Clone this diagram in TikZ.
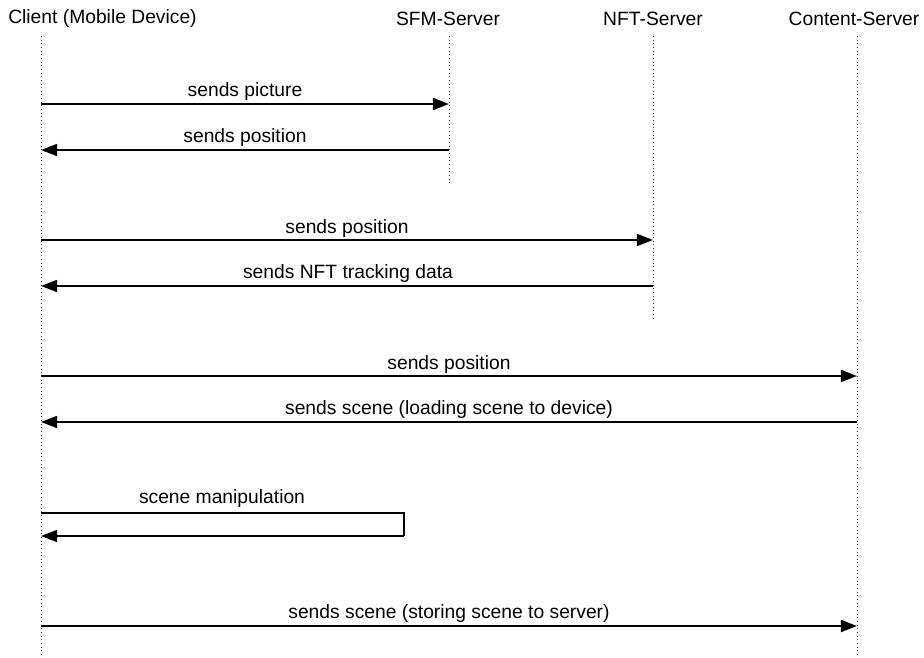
\documentclass[tikz,border=0pt]{standalone}
\usepackage{fontspec}
\setmainfont{Liberation Sans}
\usetikzlibrary{arrows.meta,positioning,calc}
\tikzset{
    headlbl/.style={inner sep=0pt, font=\fontsize{13.7}{16}\selectfont},
    msglbl/.style={inner sep=0pt, font=\fontsize{13.7}{16}\selectfont},
    lifeline/.style={dotted, line width=0.6pt, black!80},
    msgarrow/.style={-{Triangle[length=11.5pt, width=8.5pt]}, line width=1.4pt},
    msgline/.style={line width=1.4pt}
}

\begin{document}
\begin{tikzpicture}[x=0.025cm, y=-0.025cm]
\useasboundingbox (0,0) rectangle (924,657);
% participants
\node[headlbl, anchor=west] (client) at (8,19) {Client (Mobile Device)};
\node[headlbl] (sfm) at (448,19) {SFM-Server};
\node[headlbl] (nft) at (653,19) {NFT-Server};
\node[headlbl] (content) at (854,19) {Content-Server};
% lifelines
\coordinate (clientTop) at (41,36);
\coordinate (clientEnd) at (41,657);
\coordinate (sfmTop) at (449,36);
\coordinate (sfmEnd) at (449,184);
\coordinate (nftTop) at (653,36);
\coordinate (nftEnd) at (653,321);
\coordinate (contentTop) at (857,36);
\coordinate (contentEnd) at (857,657);
\draw[lifeline] (clientTop) -- (clientEnd);
\draw[lifeline] (sfmTop) -- (sfmEnd);
\draw[lifeline] (nftTop) -- (nftEnd);
\draw[lifeline] (contentTop) -- (contentEnd);
% message points
\coordinate (c1) at (clientTop |- 0,104);
\coordinate (s1) at (sfmTop |- 0,104);
\coordinate (c2) at (clientTop |- 0,150);
\coordinate (s2) at (sfmTop |- 0,150);
\coordinate (c3) at (clientTop |- 0,240);
\coordinate (n3) at (nftTop |- 0,240);
\coordinate (c4) at (clientTop |- 0,286);
\coordinate (n4) at (nftTop |- 0,286);
\coordinate (c5) at (clientTop |- 0,376);
\coordinate (k5) at (contentTop |- 0,376);
\coordinate (c6) at (clientTop |- 0,422);
\coordinate (k6) at (contentTop |- 0,422);
\coordinate (c7) at (clientTop |- 0,513);
\coordinate (self1) at (404,513);
\coordinate (self2) at (404,536);
\coordinate (c8) at (clientTop |- 0,536);
\coordinate (c9) at (clientTop |- 0,626);
\coordinate (k9) at (contentTop |- 0,626);
% messages
\draw[msgarrow] (c1) -- (s1);
\node[msglbl] (m1) at (245,92) {sends picture};
\draw[msgarrow] (s2) -- (c2);
\node[msglbl] (m2) at (245,138) {sends position};
\draw[msgarrow] (c3) -- (n3);
\node[msglbl] (m3) at (347,229) {sends position};
\draw[msgarrow] (n4) -- (c4);
\node[msglbl] (m4) at (348,274) {sends NFT tracking data};
\draw[msgarrow] (c5) -- (k5);
\node[msglbl] (m5) at (449,365) {sends position};
\draw[msgarrow] (k6) -- (c6);
\node[msglbl] (m6) at (449,410) {sends scene (loading scene to device)};
\draw[msgline] (c7) -- (self1) -- (self2);
\draw[msgarrow] (self2) -- (c8);
\node[msglbl] (m7) at (222,499) {scene manipulation};
\draw[msgarrow] (c9) -- (k9);
\node[msglbl] (m8) at (449,614) {sends scene (storing scene to server)};
\end{tikzpicture}
\end{document}
